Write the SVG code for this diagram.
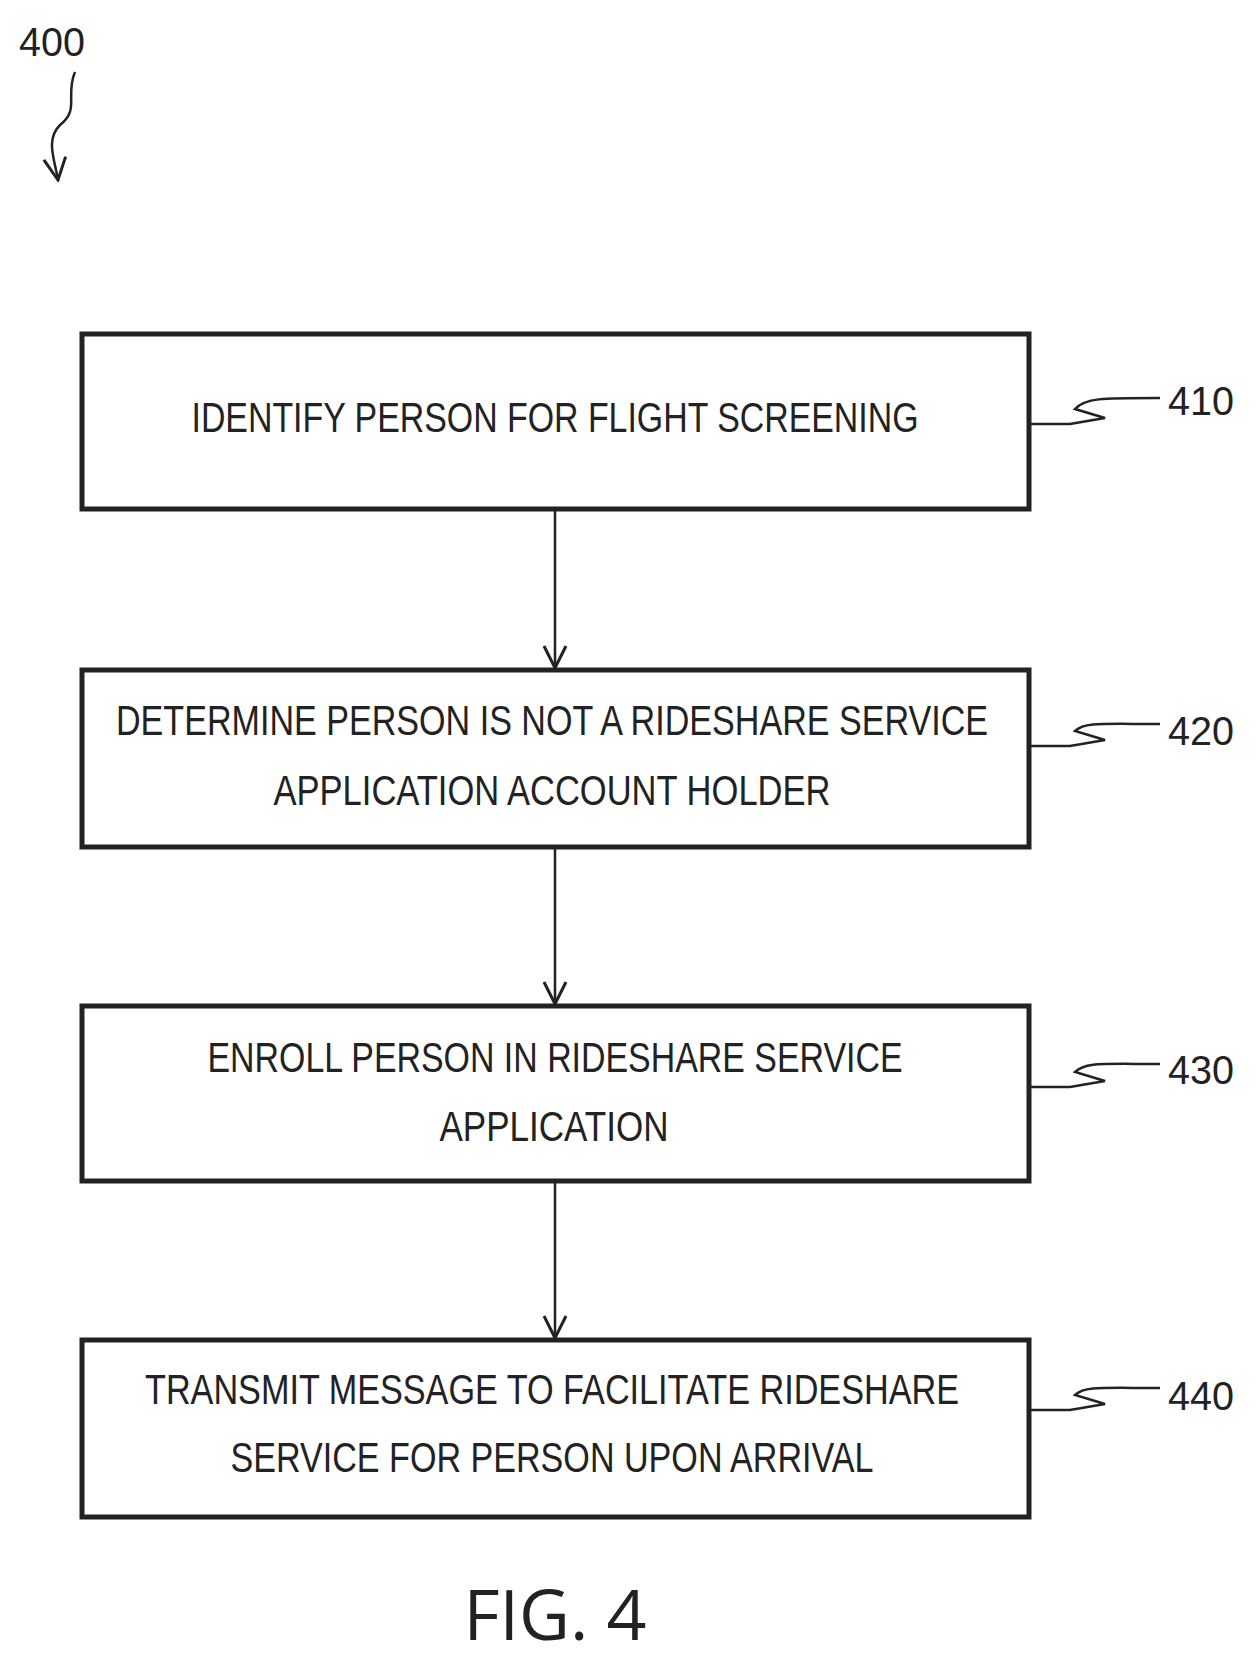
<svg xmlns="http://www.w3.org/2000/svg" width="1258" height="1669" viewBox="0 0 1258 1669">
<style>
.box{fill:#fff;stroke:#222;stroke-width:5}
.t{font-family:"Liberation Sans",Arial,sans-serif;font-size:42px;fill:#222;text-anchor:middle}
.r{font-family:"Liberation Sans",Arial,sans-serif;font-size:40px;fill:#222}
.c{fill:none;stroke:#222;stroke-width:2.5}
</style>
<defs><marker id="a" markerWidth="26" markerHeight="26" refX="24" refY="13" orient="auto" markerUnits="userSpaceOnUse"><path d="M2,2 L24,13 L2,24" fill="none" stroke="#222" stroke-width="3"/></marker></defs>
<rect width="1258" height="1669" fill="#fff"/>
<text class="r" x="19" y="56" textLength="66" lengthAdjust="spacingAndGlyphs">400</text>
<g id="n410"><rect class="box" x="82" y="334" width="947" height="175"/>
<text class="t" x="555" y="432" textLength="727" lengthAdjust="spacingAndGlyphs">IDENTIFY PERSON FOR FLIGHT SCREENING</text>
<text class="r" x="1168" y="415" textLength="66" lengthAdjust="spacingAndGlyphs">410</text></g>
<g id="n420"><rect class="box" x="82" y="670" width="947" height="177"/>
<text class="t" x="552" y="735" textLength="872" lengthAdjust="spacingAndGlyphs">DETERMINE PERSON IS NOT A RIDESHARE SERVICE</text>
<text class="t" x="552" y="805" textLength="557" lengthAdjust="spacingAndGlyphs">APPLICATION ACCOUNT HOLDER</text>
<text class="r" x="1168" y="745" textLength="66" lengthAdjust="spacingAndGlyphs">420</text></g>
<g id="n430"><rect class="box" x="82" y="1006" width="947" height="175"/>
<text class="t" x="555" y="1072" textLength="695" lengthAdjust="spacingAndGlyphs">ENROLL PERSON IN RIDESHARE SERVICE</text>
<text class="t" x="554" y="1141" textLength="229" lengthAdjust="spacingAndGlyphs">APPLICATION</text>
<text class="r" x="1168" y="1084" textLength="66" lengthAdjust="spacingAndGlyphs">430</text></g>
<g id="n440"><rect class="box" x="82" y="1340" width="947" height="177"/>
<text class="t" x="552" y="1404" textLength="814" lengthAdjust="spacingAndGlyphs">TRANSMIT MESSAGE TO FACILITATE RIDESHARE</text>
<text class="t" x="552" y="1472" textLength="643" lengthAdjust="spacingAndGlyphs">SERVICE FOR PERSON UPON ARRIVAL</text>
<text class="r" x="1168" y="1410" textLength="66" lengthAdjust="spacingAndGlyphs">440</text></g>
<text x="555" y="1640" font-family="'Open Sans','Liberation Sans',sans-serif" font-size="70" fill="#222" text-anchor="middle">FIG. 4</text>
<g id="connectors">
<path class="c" d="M75,72 C65,95 80,110 60,125 C45,140 55,160 58,180" marker-end="url(#a)"/>
<line class="c" x1="555" y1="509" x2="555" y2="668" marker-end="url(#a)"/>
<line class="c" x1="555" y1="847" x2="555" y2="1004" marker-end="url(#a)"/>
<line class="c" x1="555" y1="1181" x2="555" y2="1338" marker-end="url(#a)"/>
<path class="c" d="M1029,424 H1070 L1105,418 L1075,409 C1085,398 1100,398 1160,398"/>
<path class="c" d="M1029,746 H1070 L1105,740 L1075,731 C1085,722 1100,724 1160,724"/>
<path class="c" d="M1029,1087 H1070 L1105,1081 L1075,1072 C1085,1062 1100,1064 1160,1064"/>
<path class="c" d="M1029,1410 H1070 L1105,1404 L1075,1395 C1085,1386 1100,1388 1160,1388"/>
</g>
</svg>
